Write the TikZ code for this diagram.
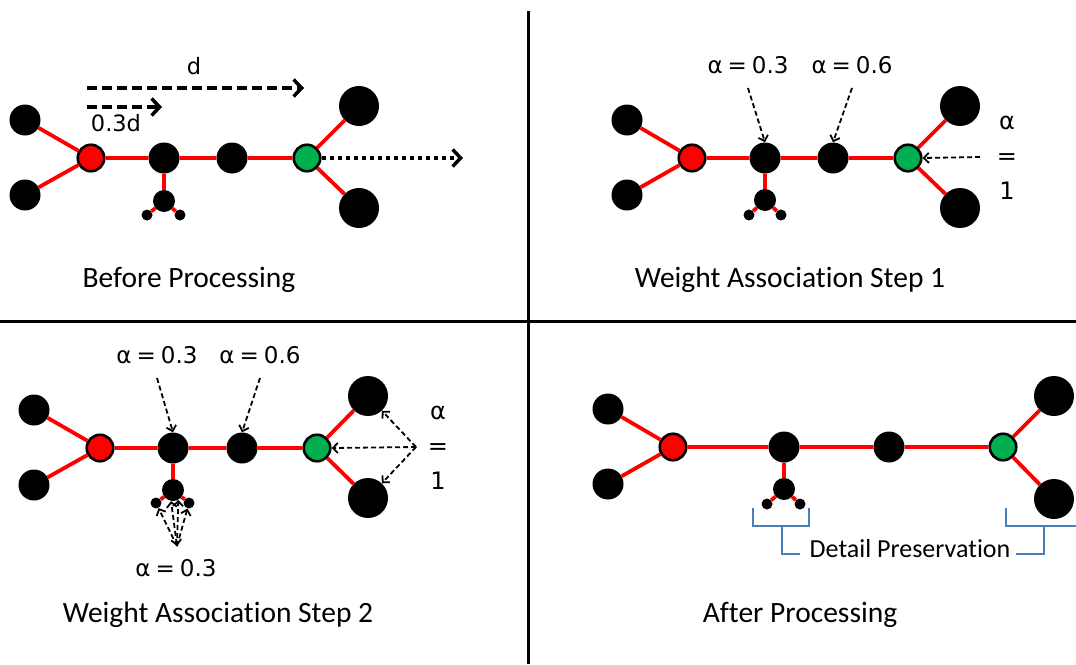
\documentclass[tikz,border=0pt]{standalone}
\usepackage{fontspec}
\setmainfont{Carlito}[Ligatures=NoCommon]
\newfontfamily\dv{DejaVu Sans}
\usetikzlibrary{arrows.meta}
\definecolor{ngreen}{HTML}{00B050}
\definecolor{brkblue}{HTML}{4A7EBB}
\newcommand\alab[1]{α\hspace{5pt}=\hspace{5pt}#1}
\begin{document}
\begin{tikzpicture}[x=1pt,y=-1pt,
  bn/.style={circle,fill=black,inner sep=0pt,minimum size=#1},
  rn/.style={circle,fill=red,draw=black,line width=2.6pt,inner sep=0pt,minimum size=26.5pt},
  gn/.style={circle,fill=ngreen,draw=black,line width=2.6pt,inner sep=0pt,minimum size=26.5pt},
  ed/.style={draw=red,line width=3.8pt},
  thickdash/.style={line width=3.5pt,dash pattern=on 10pt off 5pt,-{Straight Barb[length=8pt,width=17pt]}},
  thickdot/.style={line width=3.5pt,dash pattern=on 4pt off 4pt,-{Straight Barb[length=8pt,width=17pt]}},
  thindash/.style={line width=1.8pt,dash pattern=on 5pt off 3pt,-{Straight Barb[length=5pt,width=10pt]}},
  dvl/.style={font=\dv\fontsize{22.5}{26}\selectfont,inner sep=0pt},
  al/.style={font=\dv\fontsize{23}{27}\selectfont,inner sep=0pt},
  aleq/.style={font=\dv\fontsize{24}{35}\selectfont,align=center,inner sep=0pt},
  ttl/.style={font=\fontsize{29.5}{34}\selectfont,inner sep=0pt},
  brk/.style={draw=brkblue,line width=1.5pt},
  divider/.style={line width=3pt}
]
\useasboundingbox (0,0) rectangle (1076,664);
\fill[white] (0,0) rectangle (1076,664);

% dividers
\coordinate (vt) at (528,11); \coordinate (vb) at (528,664);
\coordinate (hl) at (0,321); \coordinate (hr) at (1076,321);
\draw[divider] (vt) -- (vb);
\draw[divider] (hl) -- (hr);

% ---------------- Q1: Before Processing
\node[bn=31pt] (alt) at (25,120) {};
\node[bn=31pt] (alb) at (25,195) {};
\node[rn] (ar) at (91,158) {};
\node[bn=31pt] (a2) at (164,158) {};
\node[bn=31pt] (a3) at (232,158) {};
\node[gn] (ag) at (307,158) {};
\node[bn=40pt] (art) at (359,106) {};
\node[bn=40pt] (arb) at (359,208) {};
\node[bn=22pt] (as) at (164,201) {};
\node[bn=11pt] (atl) at (147,215) {};
\node[bn=11pt] (atr) at (180,215) {};
\draw[ed] (alt)--(ar) (alb)--(ar) (ar)--(a2) (a2)--(a3) (a3)--(ag)
          (ag)--(art) (ag)--(arb) (a2)--(as) (as)--(atl) (as)--(atr);
\coordinate (d0) at (87,88); \coordinate (d1) at (304,88);
\draw[thickdash] (d0) -- (d1);
\node[dvl] (dl) at (194,66) {d};
\coordinate (e0) at (87,107); \coordinate (e1) at (162,107);
\draw[thickdash] (e0) -- (e1);
\node[dvl] (el) at (116,123) {0.3d};
\coordinate (f1) at (463,158);
\draw[thickdot] (ag.east) -- (f1);
\node[ttl] (t1) at (189,280) {Before Processing};

% ---------------- Q2: Weight Association Step 1
\node[bn=31pt] (blt) at (627,120) {};
\node[bn=31pt] (blb) at (627,195) {};
\node[rn] (br) at (692,158) {};
\node[bn=31pt] (b2) at (765,158) {};
\node[bn=31pt] (b3) at (833,158) {};
\node[gn] (bg) at (908,158) {};
\node[bn=40pt] (brt) at (960,106) {};
\node[bn=40pt] (brb) at (960,208) {};
\node[bn=22pt] (bs) at (765,200) {};
\node[bn=11pt] (btl) at (749,215) {};
\node[bn=11pt] (btr) at (781,215) {};
\draw[ed] (blt)--(br) (blb)--(br) (br)--(b2) (b2)--(b3) (b3)--(bg)
          (bg)--(brt) (bg)--(brb) (b2)--(bs) (bs)--(btl) (bs)--(btr);
\node[al] (bl1) at (748,65) {\alab{0.3}};
\node[al] (bl2) at (852,65) {\alab{0.6}};
\coordinate (bp1) at (748,88); \coordinate (bp2) at (852,88);
\draw[thindash] (bp1) -- (b2.north);
\draw[thindash] (bp2) -- (b3.north);
\node[aleq] (bl3) at (1007,158) {α\\=\\1};
\coordinate (bp3) at (980,157);
\draw[thindash] (bp3) -- (bg.east);
\node[ttl] (t2) at (790,280) {Weight Association Step 1};

% ---------------- Q3: Weight Association Step 2
\node[bn=31pt] (clt) at (34,410) {};
\node[bn=31pt] (clb) at (34,485) {};
\node[rn] (cr) at (100,448) {};
\node[bn=31pt] (c2) at (173,448) {};
\node[bn=31pt] (c3) at (242,448) {};
\node[gn] (cg) at (317,448) {};
\node[bn=40pt] (crt) at (368,396) {};
\node[bn=40pt] (crb) at (368,498) {};
\node[bn=22pt] (cs) at (173,490) {};
\node[bn=11pt] (ctl) at (156,503) {};
\node[bn=11pt] (ctr) at (189,503) {};
\draw[ed] (clt)--(cr) (clb)--(cr) (cr)--(c2) (c2)--(c3) (c3)--(cg)
          (cg)--(crt) (cg)--(crb) (c2)--(cs) (cs)--(ctl) (cs)--(ctr);
\node[al] (cl1) at (157,355) {\alab{0.3}};
\node[al] (cl2) at (260,355) {\alab{0.6}};
\coordinate (cp1) at (157,378); \coordinate (cp2) at (260,378);
\draw[thindash] (cp1) -- (c2.north);
\draw[thindash] (cp2) -- (c3.north);
\node[aleq] (cl3) at (438,448) {α\\=\\1};
\coordinate (cp3) at (416,447);
\draw[thindash] (cp3) -- (crt);
\draw[thindash] (cp3) -- (cg.east);
\draw[thindash] (cp3) -- (crb);
\coordinate (cq) at (177,546);
\draw[thindash] (cq) -- (ctl);
\draw[thindash,{Straight Barb[length=5pt,width=10pt]}-{Straight Barb[length=5pt,width=10pt]}] (cq) -- (cs.-100);
\draw[thindash] (cq) -- (cs.-62);
\draw[thindash] (cq) -- (ctr);
\node[al] (cl4) at (176,568) {\alab{0.3}};
\node[ttl] (t3) at (218,615) {Weight Association Step 2};

% ---------------- Q4: After Processing
\node[bn=31pt] (dlt) at (608,409) {};
\node[bn=31pt] (dlb) at (608,484) {};
\node[rn] (dr) at (673,447) {};
\node[bn=31pt] (d2) at (784,447) {};
\node[bn=31pt] (d3) at (889,447) {};
\node[gn] (dg) at (1003,447) {};
\node[bn=40pt] (drt) at (1054,396) {};
\node[bn=40pt] (drb) at (1054,499) {};
\node[bn=22pt] (ds) at (784,489) {};
\node[bn=11pt] (dtl) at (767,504) {};
\node[bn=11pt] (dtr) at (800,504) {};
\draw[ed] (dlt)--(dr) (dlb)--(dr) (dr)--(d2) (d2)--(d3) (d3)--(dg)
          (dg)--(drt) (dg)--(drb) (d2)--(ds) (ds)--(dtl) (ds)--(dtr);
\node[font=\fontsize{26}{30}\selectfont,inner sep=0pt] (dp) at (910,549) {Detail Preservation};
\draw[brk] (753,508) -- (753,526) -- (809,526) -- (809,508);
\draw[brk] (782,526) -- (782,554) -- (800,554);
\draw[brk] (1006,508) -- (1006,526) -- (1076,526);
\draw[brk] (1044,526) -- (1044,554) -- (1016,554);
\node[ttl] (t4) at (800,615) {After Processing};
\end{tikzpicture}
\end{document}
